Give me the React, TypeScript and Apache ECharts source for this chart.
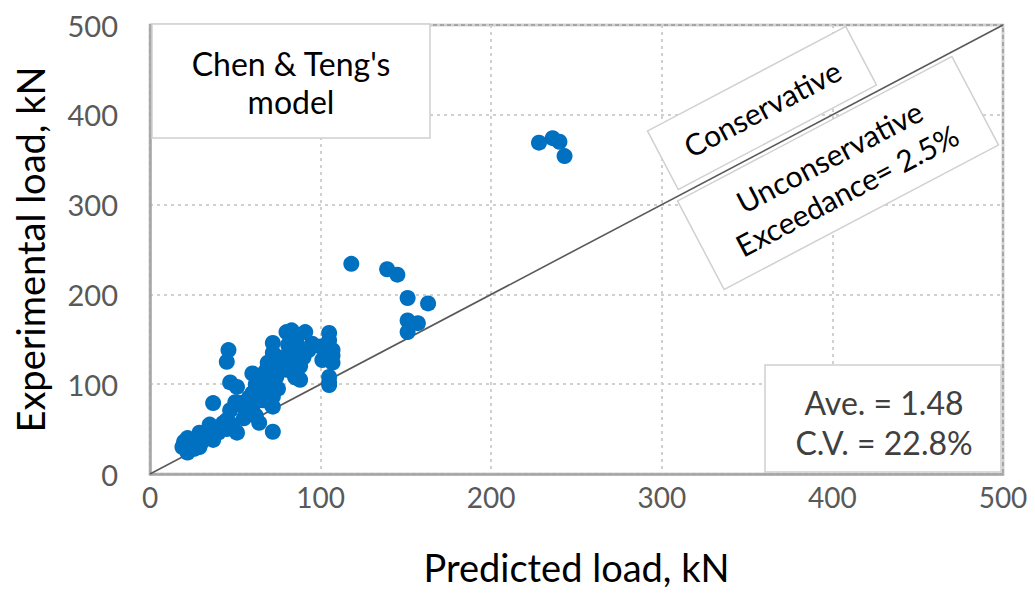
import React, { useEffect, useRef } from "react";
import * as echarts from "echarts";

const predicted: number[] = [
  20, 19, 22, 22, 25, 27, 29, 29, 31, 33, 35, 37, 37, 40, 43, 40, 45, 47, 51, 53,
  37, 46, 45, 47, 51, 50, 55, 57, 60, 60, 58, 62, 63, 64, 65, 66, 66, 67, 68, 69,
  70, 70, 71, 72, 72, 72, 72, 72, 72, 74, 75, 76, 78, 80, 80, 82, 83, 84, 86, 86,
  88, 90, 91, 93, 95, 100, 101, 105, 105, 107, 107, 105, 105, 107, 83, 81, 85, 88,
  105, 60, 62, 55, 48, 45, 35, 30, 26, 118, 139, 145, 151, 163, 151, 157, 151,
  228, 236, 240, 243,
];
const experimental: number[] = [
  36, 30, 24, 40, 34, 38, 30, 46, 44, 42, 40, 38, 48, 52, 57, 46, 60, 71, 46, 79,
  79, 138, 125, 102, 97, 80, 75, 68, 90, 112, 85, 100, 95, 57, 110, 82, 105, 92, 115, 124,
  100, 88, 78, 146, 135, 118, 86, 75, 47, 108, 95, 125, 130, 158, 116, 127, 150, 140, 146, 107,
  120, 130, 158, 138, 145, 142, 127, 157, 149, 138, 124, 102, 108, 132, 160, 144, 108, 105,
  99, 75, 65, 62, 55, 50, 55, 35, 28, 234, 228, 222, 196, 190, 171, 168, 158,
  369, 374, 370, 354,
];
const tickValues: number[] = [0, 100, 200, 300, 400, 500];
const xTitle = "Predicted load, kN";
const yTitle = "Experimental load, kN";
const modelLines = ["Chen & Teng's", "model"];
const statLines = ["Ave. = 1.48", "C.V. = 22.8%"];
const conservativeLabel = "Conservative";
const unconservativeLines = ["Unconservative", "Exceedance= 2.5%"];

const FONT = "Lato, 'Open Sans', sans-serif";

export default function App() {
  const ref = useRef<HTMLDivElement>(null);
  useEffect(() => {
    if (!ref.current) return;
    const chart = echarts.init(ref.current, null, { renderer: "svg" });
    const points = predicted.map((p, i) => [p, experimental[i]]);
    const lo = tickValues[0];
    const hi = tickValues[tickValues.length - 1];
    const ang = Math.atan(449 / 853);
    const boxText = (lines: string[]) => lines.join("\n");
    const rectStyle = { fill: "#ffffff", stroke: "#d0d0d0", lineWidth: 1.5 };
    chart.setOption({
      animation: false,
      backgroundColor: "#ffffff",
      grid: {
        left: 150,
        right: 32,
        top: 25,
        bottom: 128,
        show: true,
        borderColor: "#a6a6a6",
        borderWidth: 2.5,
        backgroundColor: "transparent",
      },
      xAxis: {
        type: "value",
        min: lo,
        max: hi,
        interval: 100,
        name: xTitle,
        nameLocation: "middle",
        nameGap: 74,
        nameTextStyle: { fontFamily: FONT, fontSize: 38, color: "#000000" },
        axisLine: { show: true, lineStyle: { color: "#a6a6a6", width: 2.5 } },
        axisTick: { show: false },
        axisLabel: { fontFamily: FONT, fontSize: 28, color: "#595959", margin: 9 },
        splitLine: { show: true, lineStyle: { color: "#d0d0d0", type: [3, 4], width: 2 } },
      },
      yAxis: {
        type: "value",
        min: lo,
        max: hi,
        interval: 100,
        name: yTitle,
        nameLocation: "middle",
        nameGap: 101,
        nameTextStyle: { fontFamily: FONT, fontSize: 38, color: "#000000" },
        axisLine: { show: true, lineStyle: { color: "#a6a6a6", width: 2.5 } },
        axisTick: { show: false },
        axisLabel: { fontFamily: FONT, fontSize: 29, color: "#595959", margin: 32 },
        splitLine: { show: true, lineStyle: { color: "#d0d0d0", type: [3, 4], width: 2 } },
      },
      series: [
        {
          type: "line",
          data: [
            [lo, lo],
            [hi, hi],
          ],
          symbol: "none",
          lineStyle: { color: "#595959", width: 1.6 },
          z: 3,
        },
        {
          type: "scatter",
          data: points,
          symbolSize: 16,
          itemStyle: { color: "#0070c0", opacity: 1 },
          z: 4,
        },
      ],
      graphic: [
        {
          type: "group",
          x: 152,
          y: 24,
          z: 10,
          children: [
            {
              type: "rect",
              z: 10,
              shape: { x: 0, y: 0, width: 278, height: 114 },
              style: rectStyle,
            },
            {
              type: "text",
              z: 11,
              x: 139,
              y: 58,
              style: {
                text: boxText(modelLines),
                font: `32px ${FONT}`,
                fill: "#000000",
                align: "center",
                verticalAlign: "middle",
                lineHeight: 38,
              },
            },
          ],
        },
        {
          type: "group",
          x: 765,
          y: 365,
          z: 10,
          children: [
            {
              type: "rect",
              z: 10,
              shape: { x: 0, y: 0, width: 236, height: 107 },
              style: rectStyle,
            },
            {
              type: "text",
              z: 11,
              x: 119,
              y: 57,
              style: {
                text: boxText(statLines),
                font: `32px ${FONT}`,
                fill: "#404040",
                align: "center",
                verticalAlign: "middle",
                lineHeight: 40,
              },
            },
          ],
        },
        {
          type: "group",
          x: 762,
          y: 108,
          rotation: ang,
          z: 10,
          children: [
            {
              type: "rect",
              z: 10,
              shape: { x: -112, y: -33, width: 224, height: 66 },
              style: rectStyle,
            },
            {
              type: "text",
              z: 11,
              x: 0,
              y: 0,
              style: {
                text: conservativeLabel,
                font: `30px ${FONT}`,
                fill: "#000000",
                align: "center",
                verticalAlign: "middle",
              },
            },
          ],
        },
        {
          type: "group",
          x: 838,
          y: 173,
          rotation: ang,
          z: 10,
          children: [
            {
              type: "rect",
              z: 10,
              shape: { x: -155, y: -50, width: 310, height: 100 },
              style: rectStyle,
            },
            {
              type: "text",
              z: 11,
              x: 0,
              y: 0,
              style: {
                text: boxText(unconservativeLines),
                font: `30px ${FONT}`,
                fill: "#000000",
                align: "center",
                verticalAlign: "middle",
                lineHeight: 38,
              },
            },
          ],
        },
      ],
    });
    return () => chart.dispose();
  }, []);
  return <div ref={ref} style={{ width: 1035, height: 602, margin: -8 }} />;
}
